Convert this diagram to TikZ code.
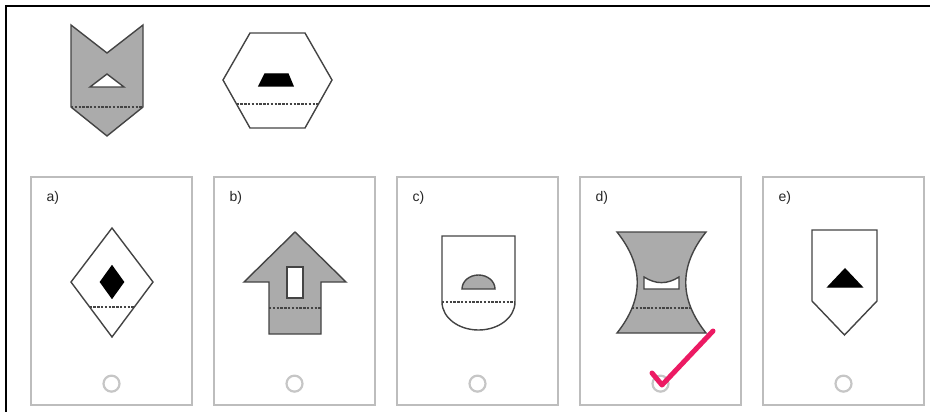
\documentclass[tikz,border=0pt]{standalone}
\usepackage{fontspec}
\setmainfont{Liberation Sans}
\usetikzlibrary{positioning}
\definecolor{ink}{HTML}{444444}
\definecolor{shade}{HTML}{ABABAB}
\definecolor{cardline}{HTML}{BDBDBD}
\definecolor{radioline}{HTML}{C6C6C6}
\definecolor{tick}{HTML}{EC1A63}

\begin{document}
\begin{tikzpicture}[x=1pt,y=-1pt,
  fig/.style={draw=ink,line width=1.4pt,line join=miter,fill=white},
  greyfig/.style={fig,fill=shade},
  cutline/.style={draw=ink,line width=1.3pt,dash pattern=on 2.4pt off 1.4pt},
  card/.style={draw=cardline,line width=1.3pt,minimum width=161pt,minimum height=228pt,inner sep=0pt},
  opt/.style={anchor=west,inner sep=0pt,font=\fontsize{14}{16}\selectfont,text=black!85},
  radio/.style={circle,draw=radioline,line width=2.2pt,minimum size=16pt,inner sep=0pt}]
\useasboundingbox (0,0) rectangle (930,412);
\draw[line width=2.5pt] (6,412) -- (6,6) -- (930,6);

% answer cards
\foreach \l [count=\i from 0] in {a,b,c,d,e} {
  \node[card] (card\l) at (111.5+183*\i,291) {};
  \node[opt] (lbl\l) at ([xshift=16pt,yshift=-22pt]card\l.north west) {\l)};
  \node[radio] (radio\l) at ([yshift=22pt]card\l.south) {};
}

% question figures
\draw[greyfig] (71,25) -- (107,53) -- (143,25) -- (143,107) -- (107,136) -- (71,107) -- cycle;
\draw[fig] (107,74) -- (124,87) -- (90,87) -- cycle;
\draw[cutline] (71,107) -- (143,107);

\draw[fig] (250,33) -- (305,33) -- (332,80) -- (305,128) -- (250,128) -- (223,80) -- cycle;
\draw[fig,fill=black,draw=black] (265,74) -- (288,74) -- (293,86) -- (259,86) -- cycle;
\draw[cutline] (236.5,104) -- (318.5,104);

% a)
\draw[fig] (112,228) -- (153,282) -- (112,337) -- (71,282) -- cycle;
\draw[fig,fill=black,draw=black] (112,266) -- (123.5,282) -- (112,298) -- (100.5,282) -- cycle;
\draw[cutline] (89.6,307) -- (134.4,307);

% b)
\draw[greyfig] (295,232) -- (346,282) -- (321,282) -- (321,334) -- (269,334) -- (269,282) -- (244,282) -- cycle;
\draw[fig] (287,267) rectangle (303,298);
\draw[cutline] (269,308) -- (321,308);

% c)
\draw[fig] (442,302) -- (442,236) -- (515,236) -- (515,302) arc (0:180:36.5 and 28) -- cycle;
\draw[cutline] (442,302) -- (515,302);
\draw[greyfig] (462,289) arc (180:360:16.5 and 14) -- cycle;

% d)
\draw[greyfig] (617,232) -- (706,232) .. controls (679,266) and (679,299) .. (706,333)
  -- (617,333) .. controls (644,299) and (644,266) .. (617,232) -- cycle;
\draw[fig] (644,277) .. controls (656,284.5) and (667,284.5) .. (679,277) -- (679,289) -- (644,289) -- cycle;
\draw[cutline] (632,308) -- (691,308);

% e)
\draw[fig] (812,230) -- (877,230) -- (877,301) -- (844.5,335) -- (812,301) -- cycle;
\draw[fig,fill=black,draw=black] (845,269) -- (862,287) -- (828,287) -- cycle;

% tick
\draw[tick,line width=5pt,line cap=round,line join=round] (652,373) -- (662,385) -- (713,331);
\end{tikzpicture}
\end{document}
